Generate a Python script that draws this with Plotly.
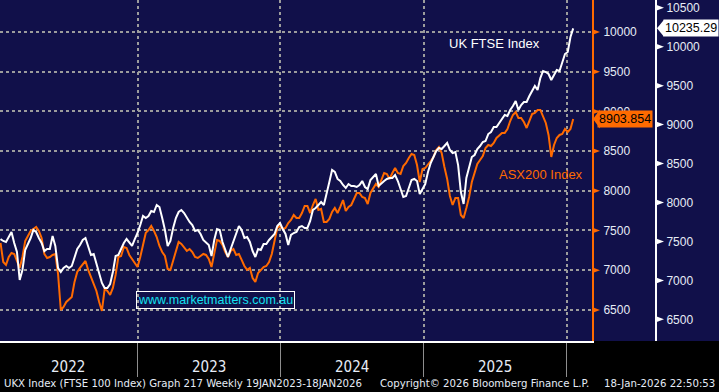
import pandas as pd
import plotly.graph_objects as go

# ---------------- data ----------------
dates = pd.date_range("2022-01-16", "2026-01-18", freq="7D")

asx200 = [
    7343, 7103, 7066, 7166, 7217, 7204, 7116, 7028, 7166, 7368,
    7431, 7494, 7519, 7544, 7494, 7406, 7204, 7154, 7166, 7192,
    7204, 6952, 6499, 6537, 6600, 6637, 6663, 6852, 6977, 7028,
    7078, 7116, 7003, 6915, 6826, 6738, 6600, 6486, 6763, 6738,
    6688, 6776, 6940, 7166, 7179, 7292, 7280, 7192, 7141, 7091,
    7040, 7166, 7330, 7469, 7506, 7557, 7494, 7418, 7305, 7229,
    7179, 7015, 7003, 7116, 7229, 7355, 7330, 7292, 7242, 7267,
    7229, 7166, 7154, 7179, 7204, 7192, 7141, 7040, 7192, 7380,
    7368, 7317, 7229, 7166, 7242, 7267, 7192, 7204, 7129, 7053,
    7003, 7028, 6902, 6852, 6965, 7003, 7040, 7053, 7103, 7204,
    7393, 7532, 7557, 7519, 7532, 7594, 7632, 7695, 7657, 7657,
    7720, 7809, 7809, 7720, 7821, 7897, 7758, 7771, 7607, 7607,
    7645, 7733, 7783, 7720, 7796, 7884, 7746, 7796, 7821, 7909,
    7972, 7972, 7922, 7909, 7834, 7972, 8035, 8086, 8048, 8149,
    8224, 8212, 8149, 8224, 8287, 8224, 8212, 8312, 8350, 8413,
    8463, 8451, 8325, 8111, 8275, 8287, 8325, 8375, 8426, 8514,
    8552, 8476, 8300, 8149, 7935, 7821, 7909, 7909, 7695, 7657,
    7783, 7922, 8111, 8237, 8338, 8388, 8438, 8539, 8577, 8564,
    8602, 8665, 8703, 8728, 8728, 8778, 8879, 8955, 8992, 8917,
    8917, 8866, 8791, 8879, 8967, 8980, 9018, 9018, 8942, 8854,
    8703, 8426, 8577, 8665, 8703, 8715, 8778, 8741, 8778, 8903.854,
]

ftse100 = [
    7531, 7506, 7493, 7557, 7621, 7480, 7365, 7005, 7134, 7390,
    7467, 7544, 7647, 7621, 7544, 7480, 7377, 7403, 7403, 7570,
    7442, 7159, 7108, 7159, 7185, 7159, 7185, 7300, 7403, 7454,
    7519, 7544, 7429, 7326, 7339, 7211, 7095, 6967, 6902, 6902,
    6954, 7108, 7313, 7326, 7403, 7480, 7531, 7493, 7442, 7531,
    7608, 7711, 7827, 7801, 7827, 7891, 7878, 7968, 7942, 7801,
    7647, 7442, 7506, 7673, 7801, 7878, 7904, 7865, 7801, 7750,
    7711, 7634, 7647, 7596, 7519, 7480, 7454, 7313, 7519, 7660,
    7647, 7493, 7390, 7300, 7403, 7493, 7583, 7698, 7647, 7544,
    7557, 7493, 7377, 7300, 7403, 7390, 7467, 7467, 7519, 7557,
    7596, 7698, 7737, 7660, 7596, 7454, 7583, 7608, 7621, 7685,
    7698, 7673, 7673, 7763, 7904, 7929, 7968, 8006, 7968, 8135,
    8263, 8417, 8392, 8302, 8276, 8225, 8186, 8237, 8212, 8212,
    8199, 8225, 8276, 8199, 8173, 8289, 8327, 8366, 8212, 8250,
    8276, 8302, 8315, 8315, 8353, 8276, 8173, 8071, 8083, 8199,
    8289, 8302, 8276, 8109, 8173, 8237, 8392, 8507, 8584, 8661,
    8700, 8687, 8725, 8764, 8674, 8635, 8648, 8481, 8135, 7981,
    8315, 8443, 8584, 8610, 8687, 8725, 8777, 8789, 8879, 8905,
    8969, 8969, 9021, 9085, 9123, 9110, 9187, 9239, 9303, 9187,
    9252, 9290, 9290, 9367, 9431, 9496, 9444, 9598, 9688, 9675,
    9650, 9573, 9637, 9701, 9688, 9804, 9906, 9932, 10125, 10235.29,
]

asx_ticks = [6500, 7000, 7500, 8000, 8500, 9000, 9500, 10000]
asx_minor = [6250, 6750, 7250, 7750, 8250, 8750, 9250, 9750, 10250]
ftse_ticks = [6500, 7000, 7500, 8000, 8500, 9000, 9500, 10000, 10500]
ftse_minor = [6750, 7250, 7750, 8250, 8750, 9250, 9750, 10250]
year_starts = ["2023-01-01", "2024-01-01", "2025-01-01", "2026-01-01"]
quarter_ticks = ["2022-04-01", "2022-07-01", "2022-10-01",
                 "2023-04-01", "2023-07-01", "2023-10-01",
                 "2024-04-01", "2024-07-01", "2024-10-01",
                 "2025-04-01", "2025-07-01", "2025-10-01"]
year_labels = ["2022", "2023", "2024", "2025"]
year_label_pos = ["2022-07-08", "2023-07-02", "2024-07-02", "2025-07-02"]

# ---------------- style ----------------
W, H = 719, 392
PLOT_W = 592          # px, right edge of the price panel
PLOT_H = 341          # px, bottom of the price panel
FTSE_X = 656          # px, position of the FTSE value axis
NAVY = "#11104a"
ORANGE = "#ff6a00"
GRID = "#9c9c9c"
TXT = "#e6ecf6"
NARROW = "Liberation Sans Narrow, DejaVu Sans Condensed, Arial Narrow, sans-serif"
ARIAL = "Liberation Sans, Arial, sans-serif"
X_RANGE = ["2022-01-14 16:00", "2026-03-07"]
ASX_RANGE = [6108, 10403]
FTSE_RANGE = [6222, 10599.5]


def py(px):  # pixel row -> paper y
    return (PLOT_H - px) / PLOT_H


def val_to_paper(v, rng):  # axis value -> paper y (for axis decorations only)
    return (v - rng[0]) / (rng[1] - rng[0])


def tri(x_px, yp, color, w, h_px, left=False):
    """triangle in paper coordinates; w/h in pixels"""
    dx = w / W
    dy = h_px / PLOT_H
    x0 = x_px / W
    if left:
        path = f"M{x0},{yp} L{x0 + dx},{yp + dy} L{x0 + dx},{yp - dy} Z"
    else:
        path = f"M{x0},{yp - dy} L{x0 + dx},{yp} L{x0},{yp + dy} Z"
    return dict(type="path", xref="paper", yref="paper", path=path,
                fillcolor=color, line=dict(width=0), layer="above")


fig = go.Figure()
fig.add_trace(go.Scatter(x=dates, y=asx200, xaxis="x", yaxis="y", mode="lines",
                         line=dict(color=ORANGE, width=2), hoverinfo="skip", name="ASX200"))
fig.add_trace(go.Scatter(x=dates, y=ftse100, xaxis="x", yaxis="y2", mode="lines",
                         line=dict(color="white", width=2), hoverinfo="skip", name="FTSE"))

shapes = [dict(type="rect", xref="paper", yref="paper", x0=0, x1=1, y0=0, y1=1,
               fillcolor=NAVY, line=dict(width=0), layer="below")]
for v in asx_ticks:
    shapes.append(tri(PLOT_W, val_to_paper(v, ASX_RANGE), ORANGE, 8, 3))
for v in ftse_ticks:
    shapes.append(tri(FTSE_X, val_to_paper(v, FTSE_RANGE), "white", 8, 3))
# pointers of the last-value labels
shapes.append(tri(PLOT_W + 1, val_to_paper(asx200[-1], ASX_RANGE), ORANGE, 7, 9.5, left=True))
shapes.append(tri(FTSE_X + 1, val_to_paper(ftse100[-1], FTSE_RANGE), "white", 7, 8.5, left=True))

annotations = [
    dict(text="UK FTSE Index", xref="paper", yref="paper", x=447 / W, y=py(43),
         xanchor="left", yanchor="middle", showarrow=False,
         font=dict(family=ARIAL, size=13, color="white")),
    dict(text="ASX200 Index", xref="paper", yref="paper", x=497 / W, y=py(174),
         xanchor="left", yanchor="middle", showarrow=False,
         font=dict(family=ARIAL, size=13, color=ORANGE)),
    dict(text="www.marketmatters.com.au", xref="paper", yref="paper", x=136 / W, y=py(299.5),
         xanchor="left", yanchor="middle", showarrow=False,
         bordercolor="white", borderwidth=1, borderpad=1,
         font=dict(family=ARIAL, size=12.5, color="#14e0f0")),
    dict(text=f"{ftse100[-1]:.2f}", xref="paper", yref="y2", x=663 / W, y=ftse100[-1],
         xanchor="left", yanchor="middle", showarrow=False, bgcolor="white", borderpad=1,
         font=dict(family=ARIAL, size=12.5, color="black")),
    dict(text=f"{asx200[-1]:.3f}", xref="paper", yref="y", x=597 / W, y=asx200[-1],
         xanchor="left", yanchor="middle", showarrow=False, bgcolor=ORANGE, borderpad=1,
         font=dict(family=ARIAL, size=12.5, color="black")),
    dict(text="UKX Index (FTSE 100 Index) Graph 217 Weekly 19JAN2023-18JAN2026",
         xref="paper", yref="paper", x=2 / W, y=py(384), xanchor="left", yanchor="middle",
         showarrow=False, font=dict(family=NARROW, size=11.3, color=TXT)),
    dict(text="Copyright\u00a9 2026 Bloomberg Finance L.P.",
         xref="paper", yref="paper", x=378 / W, y=py(384), xanchor="left", yanchor="middle",
         showarrow=False, font=dict(family=NARROW, size=11.3, color=TXT)),
    dict(text="18-Jan-2026 22:50:53",
         xref="paper", yref="paper", x=717 / W, y=py(384), xanchor="right", yanchor="middle",
         showarrow=False, font=dict(family=NARROW, size=11.3, color=TXT)),
]
for lab, pos in zip(year_labels, year_label_pos):
    annotations.append(dict(text=lab, xref="x", yref="paper", x=pos, y=py(367),
                            xanchor="center", yanchor="middle", showarrow=False,
                            font=dict(family=NARROW, size=15, color=TXT)))

fig.update_layout(
    width=W, height=H,
    margin=dict(l=0, r=0, t=0, b=H - PLOT_H, pad=0),
    paper_bgcolor="black", plot_bgcolor=NAVY,
    showlegend=False,
    shapes=shapes,
    annotations=annotations,
    xaxis=dict(
        type="date", domain=[0, PLOT_W / W], anchor="y", range=X_RANGE,
        showline=True, linecolor="white", linewidth=2,
        tickmode="array", tickvals=year_starts, showticklabels=False,
        ticks="outside", ticklen=34, tickwidth=1, tickcolor="#8e8e8e",
        showgrid=True, gridcolor=GRID, gridwidth=2, griddash="dot",
        zeroline=False, fixedrange=True,
    ),
    xaxis3=dict(
        type="date", overlaying="x", anchor="y", range=X_RANGE, side="bottom",
        tickmode="array", tickvals=quarter_ticks, showticklabels=False,
        ticks="outside", ticklen=4, tickwidth=1, tickcolor="#d8d8d8",
        showgrid=False, showline=False, zeroline=False, fixedrange=True,
    ),
    yaxis=dict(
        domain=[0, 1], anchor="x", side="right", range=ASX_RANGE,
        showline=True, linecolor=ORANGE, linewidth=2,
        tickmode="array", tickvals=asx_ticks, ticktext=[str(v) for v in asx_ticks],
        ticks="outside", ticklen=7, tickcolor="rgba(0,0,0,0)",
        tickfont=dict(family=ARIAL, size=12, color=TXT), ticklabeloverflow="allow",
        showgrid=True, gridcolor=GRID, gridwidth=2, griddash="dot",
        zeroline=False, fixedrange=True,
    ),
    yaxis3=dict(
        overlaying="y", anchor="x", side="right", range=ASX_RANGE,
        tickmode="array", tickvals=asx_minor, showticklabels=False,
        ticks="outside", ticklen=4, tickwidth=1.5, tickcolor=ORANGE,
        showgrid=False, showline=False, zeroline=False, fixedrange=True,
    ),
    yaxis2=dict(
        overlaying="y", anchor="free", position=FTSE_X / W, side="right", range=FTSE_RANGE,
        showline=True, linecolor="white", linewidth=2,
        tickmode="array", tickvals=ftse_ticks, ticktext=[str(v) for v in ftse_ticks],
        ticks="outside", ticklen=7, tickcolor="rgba(0,0,0,0)",
        tickfont=dict(family=ARIAL, size=12, color=TXT), ticklabeloverflow="allow",
        showgrid=False, zeroline=False, fixedrange=True,
    ),
    yaxis4=dict(
        overlaying="y", anchor="free", position=FTSE_X / W, side="right", range=FTSE_RANGE,
        tickmode="array", tickvals=ftse_minor, showticklabels=False,
        ticks="outside", ticklen=4, tickwidth=1.5, tickcolor="white",
        showgrid=False, showline=False, zeroline=False, fixedrange=True,
    ),
)

fig.write_html("out.html", config={"displayModeBar": False, "staticPlot": True})

# remove the browser's default page margin so the figure fills the window
with open("out.html", "r", encoding="utf-8") as f:
    html = f.read()
html = html.replace("<head>", "<head><style>html,body{margin:0;padding:0;background:#000;overflow:hidden}</style>", 1)
with open("out.html", "w", encoding="utf-8") as f:
    f.write(html)
